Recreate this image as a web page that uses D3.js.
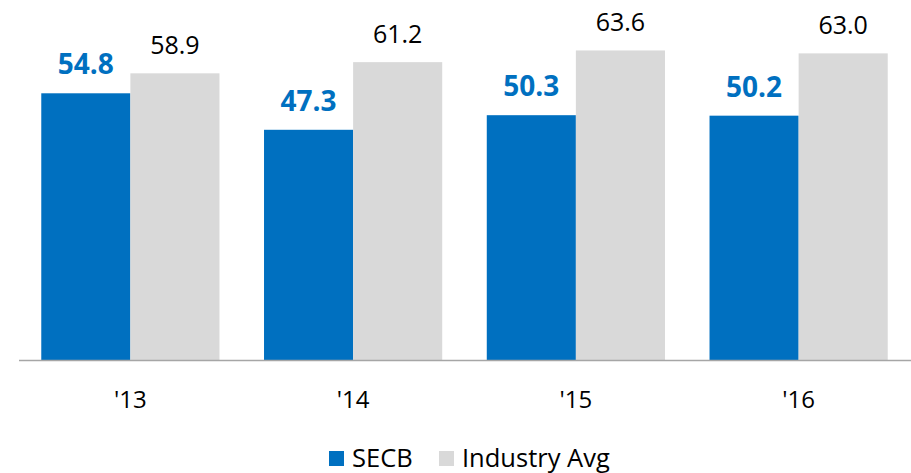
<!DOCTYPE html>
<html>
<head>
<meta charset="utf-8">
<script src="https://cdn.jsdelivr.net/npm/d3@7"></script>
<style>
  html, body { margin: 0; padding: 0; background: #fff; }
  svg { display: block; font-family: "Open Sans", "Noto Sans", sans-serif; }
</style>
</head>
<body>
<svg id="chart" width="911" height="473"></svg>
<script>
// Efficiency ratio by year: SECB vs. industry average
const years = ["'13", "'14", "'15", "'16"];
const seriesNames = ["SECB", "Industry Avg"];
const secb = [54.8, 47.3, 50.3, 50.2];
const industryAvg = [58.9, 61.2, 63.6, 63.0];
const colors = ["#0070C0", "#D9D9D9"];

const svg = d3.select("#chart");
const baseline = 360;
const yMaxPx = 4.867 * 60; // pixel height for value 60

const x = d3.scaleBand().domain(years).range([19, 910]).paddingInner(0.2).paddingOuter(0.1);
const xs = d3.scaleBand().domain(seriesNames).range([0, x.bandwidth()]).padding(0);
const y = d3.scaleLinear().domain([0, 60]).range([baseline, baseline - yMaxPx]);

const rows = years.map((yr, i) => ({ year: yr, values: [secb[i], industryAvg[i]] }));

const groups = svg.selectAll("g.grp").data(rows).join("g")
  .attr("class", "grp")
  .attr("transform", d => `translate(${x(d.year)},0)`);

groups.selectAll("rect").data(d => d.values.map((v, k) => ({ v, k })))
  .join("rect")
  .attr("x", d => xs(seriesNames[d.k]))
  .attr("width", xs.bandwidth())
  .attr("y", d => y(d.v))
  .attr("height", d => baseline - y(d.v))
  .attr("fill", d => colors[d.k]);

groups.selectAll("text.val").data(d => d.values.map((v, k) => ({ v, k })))
  .join("text")
  .attr("class", "val")
  .attr("x", d => xs(seriesNames[d.k]) + xs.bandwidth() / 2)
  .attr("y", d => y(d.v) - 19)
  .attr("text-anchor", "middle")
  .attr("font-size", d => d.k === 0 ? 28 : 25)
  .attr("font-weight", d => d.k === 0 ? 700 : 400)
  .attr("fill", d => d.k === 0 ? colors[0] : "#000")
  .text(d => d.v.toFixed(1));

// Category axis
const axis = svg.append("g").attr("transform", `translate(0,${baseline})`)
  .call(d3.axisBottom(x).tickSize(0).tickPadding(31));
axis.select(".domain").attr("stroke", "#A6A6A6").attr("stroke-width", 1.5)
  .attr("d", "M19,0.5H911");
axis.selectAll(".tick text")
  .attr("font-size", 24)
  .attr("font-family", "'Open Sans', 'Noto Sans', sans-serif")
  .attr("fill", "#000");

// Legend
const legendItems = [
  { name: seriesNames[0], color: colors[0], x: 329 },
  { name: seriesNames[1], color: colors[1], x: 439 }
];
const lg = svg.append("g");
lg.selectAll("rect").data(legendItems).join("rect")
  .attr("x", d => d.x).attr("y", 451).attr("width", 15).attr("height", 15)
  .attr("fill", d => d.color);
lg.selectAll("text").data(legendItems).join("text")
  .attr("x", d => d.x + 23).attr("y", 467)
  .attr("font-size", 25.5)
  .attr("fill", "#000")
  .text(d => d.name);
</script>
</body>
</html>
